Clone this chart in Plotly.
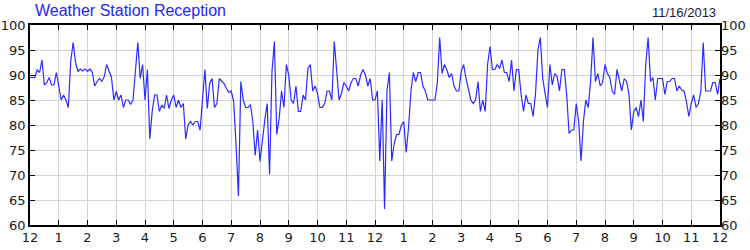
import plotly.graph_objects as go

# 5-minute samples, 12 per hour, midnight to midnight
h00_06 = [
    89.5, 89.5, 89.5, 91, 90.5, 93, 88, 88.5, 89.5, 88, 88, 90.5,
    88, 85, 86, 85, 83.5, 92.7, 96.5, 92.5, 90.7, 91.2, 90.8, 91.2,
    90.7, 91.2, 90.5, 87.8, 88.7, 89.3, 88.7, 89.7, 92.1, 90.7, 89.5, 85,
    86.7, 85, 86, 83.5, 85, 85, 84.1, 85, 91.3, 96.5, 89.3, 92.1,
    85, 91.1, 77.2, 82.7, 86, 86, 82.7, 84, 83.3, 86, 83.3, 85,
    86, 83.5, 85, 83.5, 84.3, 77.2, 80, 80.7, 80, 80.7, 80.7, 79,
]
h06_12 = [
    85, 91.1, 83.3, 88.3, 89.3, 83.5, 84.3, 89.3, 88.8, 88.3, 87.3, 86.5,
    86.8, 84.7, 76, 65.8, 88.7, 85, 83.5, 83.5, 84.1, 80.7, 73.9, 79,
    72.7, 77.3, 81, 84.3, 70.1, 90.7, 96.7, 78.1, 81.3, 86.8, 83.5, 92.1,
    90, 85, 84.3, 87.8, 82.7, 82.7, 86, 85, 91.3, 92.1, 86.8, 87.8,
    86.3, 83.5, 83.5, 84.3, 86.8, 86.8, 85, 96.7, 90.7, 85, 86.3, 88.5,
    87.8, 86.8, 88.5, 89.3, 89.3, 87.8, 90, 91.1, 90, 87.8, 89.3, 85,
]
h12_18 = [
    85, 86.8, 72.8, 85, 63.2, 86.8, 90.5, 72.8, 76.3, 78.1, 78.1, 79.9,
    80.7, 74.5, 79.5, 86.8, 90.5, 88.7, 90.5, 90.5, 87.8, 86.8, 85, 85,
    85, 85, 88.3, 97.5, 90.3, 92.1, 91, 89.5, 90.3, 87.8, 86.8, 86.8,
    90.7, 92.1, 89.3, 87, 85, 84.3, 85, 88.7, 82.7, 85, 82.7, 92.1,
    95.7, 91.1, 91.1, 92.1, 91.3, 93, 90.5, 90.5, 88.7, 93, 86.8, 91.1,
    91.1, 86, 82.7, 86, 84.3, 84.3, 81.7, 86.3, 95, 97.5, 89.3, 86.3,
]
h18_24 = [
    83.5, 92.1, 88, 90.3, 89.7, 86.8, 91.1, 91.1, 86.1, 78.3, 79, 79,
    84.3, 80.7, 72.8, 80.7, 85, 83.5, 88.8, 97.5, 88.7, 90.3, 87.8, 88.5,
    92.1, 90.3, 89.5, 86.8, 86.1, 91.1, 88.8, 86.8, 89.3, 88.7, 86.1, 79,
    82.7, 83.5, 81.7, 85, 80.7, 92.1, 97.5, 88.7, 89.5, 85, 89.3, 89.3,
    89.3, 86.1, 88.7, 88.7, 89.3, 89.3, 86.8, 87.8, 87, 86.8, 84.7, 81.7,
    84.3, 86, 83.5, 84.3, 86.7, 96.5, 86.8, 86.8, 86.8, 88.5, 88.5, 86.1,
    89.3,
]
reception = h00_06 + h06_12 + h12_18 + h18_24
sample_minutes = 5
hours = [i * sample_minutes / 60 for i in range(len(reception))]

hour_ticks = list(range(25))
hour_labels = ["12", "1", "2", "3", "4", "5", "6", "7", "8", "9", "10", "11",
               "12", "1", "2", "3", "4", "5", "6", "7", "8", "9", "10", "11", "12"]
y_ticks = [60, 65, 70, 75, 80, 85, 90, 95, 100]

title_text = "Weather Station Reception"
date_text = "11/16/2013"

tick_font = dict(family="DejaVu Sans", size=13, color="#1a1a1a")

fig = go.Figure()
fig.add_trace(go.Scatter(x=hours, y=reception, mode="lines",
                         line=dict(color="#2b2bff", width=1.2),
                         showlegend=False, hoverinfo="skip"))
fig.add_trace(go.Scatter(x=hours, y=reception, mode="lines", yaxis="y2",
                         line=dict(color="rgba(0,0,0,0)", width=0),
                         showlegend=False, hoverinfo="skip"))

fig.update_layout(
    width=750, height=250,
    margin=dict(l=30, r=30, t=25, b=25, autoexpand=False),
    paper_bgcolor="white", plot_bgcolor="white",
    hovermode=False,
    xaxis=dict(range=[0, 24], tickmode="array", tickvals=hour_ticks, ticktext=hour_labels,
               ticks="inside", ticklen=5, tickcolor="black", tickwidth=1,
               showline=True, linecolor="black", linewidth=1.5, mirror="ticks",
               showgrid=True, gridcolor="#d4d4d4", gridwidth=1, zeroline=False,
               automargin=False, tickfont=tick_font),
    yaxis=dict(range=[60, 100], tickmode="array", tickvals=y_ticks,
               ticks="inside", ticklen=5, tickcolor="black", tickwidth=1,
               showline=True, linecolor="black", linewidth=1.5, mirror="ticks",
               showgrid=True, gridcolor="#d4d4d4", gridwidth=1, zeroline=False,
               automargin=False, tickfont=tick_font),
    yaxis2=dict(range=[60, 100], tickmode="array", tickvals=y_ticks, overlaying="y",
                side="right", ticks="", showgrid=False, zeroline=False, showline=False,
                automargin=False, tickfont=tick_font),
    annotations=[
        dict(text=title_text, xref="paper", yref="paper", x=0.004, y=1.07,
             xanchor="left", yanchor="middle", showarrow=False,
             font=dict(family="Liberation Sans", size=16, color="#2424ff")),
        dict(text=date_text, xref="paper", yref="paper", x=0.997, y=1.065,
             xanchor="right", yanchor="middle", showarrow=False,
             font=dict(family="Liberation Sans", size=13, color="#1a1a3a")),
    ],
)

fig.write_html("out.html", config={"displayModeBar": False})
